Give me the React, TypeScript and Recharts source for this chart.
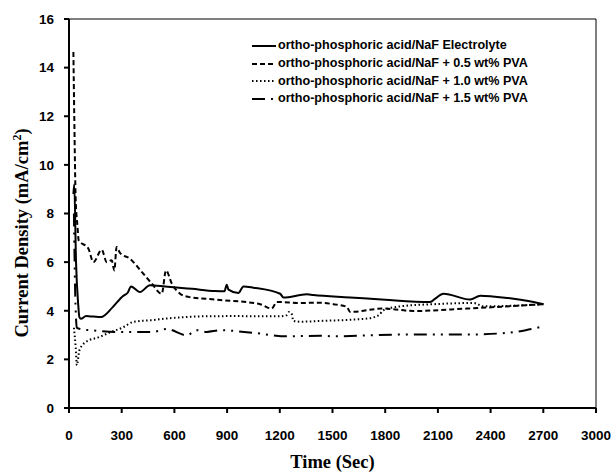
import { LineChart, Line, XAxis, YAxis, ReferenceLine, Legend } from 'recharts'

const SANS = '"Liberation Sans", Arial, sans-serif'
const SERIF = '"Liberation Serif", "Times New Roman", serif'

// time (sec) / current density (mA/cm2)
const electrolyteT = [25, 30, 40, 52, 59, 68, 97, 140, 182, 249, 306, 335, 353, 404, 461, 547, 700, 832, 885, 898, 908, 964, 993, 1050, 1202, 1221, 1354, 1391, 1600, 1800, 2056, 2085, 2132, 2284, 2341, 2500, 2645, 2702]
const electrolyteV = [8.8, 9.2, 6.0, 4.3, 3.74, 3.67, 3.78, 3.76, 3.74, 4.15, 4.6, 4.75, 5.0, 4.77, 5.05, 5.0, 4.9, 4.81, 4.8, 5.07, 4.87, 4.73, 5.0, 4.95, 4.7, 4.54, 4.68, 4.65, 4.55, 4.45, 4.36, 4.5, 4.7, 4.46, 4.62, 4.52, 4.36, 4.27]

const pva05T = [25, 30, 38, 48, 55, 63, 110, 139, 186, 215, 243, 258, 271, 290, 347, 414, 471, 528, 552, 585, 632, 680, 832, 1088, 1154, 1183, 1316, 1430, 1505, 1582, 1600, 1790, 1961, 2265, 2702]
const pva05V = [14.64, 12.0, 8.6, 7.5, 6.9, 6.83, 6.56, 6.0, 6.51, 6.0, 6.08, 5.66, 6.62, 6.38, 6.14, 5.6, 5.12, 4.7, 5.66, 5.12, 4.7, 4.57, 4.46, 4.27, 4.09, 4.36, 4.32, 4.33, 4.27, 4.16, 3.95, 4.09, 3.99, 4.09, 4.27]

const pva10T = [28, 38, 45, 59, 97, 173, 230, 306, 366, 480, 556, 765, 936, 1202, 1240, 1252, 1268, 1277, 1316, 1430, 1696, 1762, 1790, 1885, 2075, 2303, 2360, 2702]
const pva10V = [3.3, 2.5, 1.76, 2.37, 2.72, 2.92, 3.1, 3.31, 3.54, 3.62, 3.68, 3.77, 3.78, 3.77, 3.82, 3.95, 3.86, 3.58, 3.55, 3.58, 3.68, 3.81, 4.02, 4.18, 4.27, 4.32, 4.18, 4.27]

const pva15T = [28, 36, 45, 53, 167, 262, 480, 556, 670, 727, 784, 860, 1050, 1240, 1430, 1505, 1885, 2265, 2493, 2600, 2702]
const pva15V = [8.0, 4.5, 3.3, 3.27, 3.17, 3.13, 3.13, 3.25, 2.99, 3.2, 3.13, 3.2, 3.09, 2.95, 2.97, 2.95, 3.02, 3.02, 3.09, 3.2, 3.36]

const xTicks = [0, 300, 600, 900, 1200, 1500, 1800, 2100, 2400, 2700, 3000]
const yTicks = [0, 2, 4, 6, 8, 10, 12, 14, 16]

const toPoints = (ts: number[], vs: number[]) => ts.map((t, i) => ({ t, v: vs[i] }))

const series = [
  { name: 'ortho-phosphoric acid/NaF Electrolyte', data: toPoints(electrolyteT, electrolyteV), dash: undefined, width: 2 },
  { name: 'ortho-phosphoric acid/NaF + 0.5 wt% PVA', data: toPoints(pva05T, pva05V), dash: '5 3', width: 2 },
  { name: 'ortho-phosphoric acid/NaF + 1.0 wt% PVA', data: toPoints(pva10T, pva10V), dash: '1.5 2.5', width: 2 },
  { name: 'ortho-phosphoric acid/NaF + 1.5 wt% PVA', data: toPoints(pva15T, pva15V), dash: '13 6 2 6 2 6', width: 2 },
]

function LegendBox() {
  return (
    <div style={{ fontFamily: SANS, fontWeight: 'bold', fontSize: 12.6, lineHeight: '17.8px', color: '#000' }}>
      {series.map(s => (
        <div key={s.name} style={{ display: 'flex', alignItems: 'center', height: 17.8, whiteSpace: 'nowrap' }}>
          <svg width={26} height={10} style={{ marginRight: 1 }}>
            <line x1={1} y1={5} x2={25} y2={5} stroke="#000" strokeWidth={2} strokeDasharray={s.dash} />
          </svg>
          <span>{s.name}</span>
        </div>
      ))}
    </div>
  )
}

function YTitle() {
  return (
    <text
      transform="rotate(-90, 28, 233)"
      x={28}
      y={233}
      textAnchor="middle"
      fontFamily={SERIF}
      fontWeight="bold"
      fontSize={18.5}
      fill="#000"
    >
      Current Density  (mA/cm<tspan dy={-7} fontSize={12}>2</tspan><tspan dy={7}>)</tspan>
    </text>
  )
}

export default function App() {
  return (
    <div style={{ position: 'absolute', left: 0, top: 0, background: '#fff' }}>
      <LineChart width={612} height={474} margin={{ top: 19, right: 16, bottom: 0, left: 0 }}>
        <XAxis
          type="number"
          dataKey="t"
          domain={[0, 3000]}
          ticks={xTicks}
          allowDuplicatedCategory={false}
          stroke="#000"
          strokeWidth={2}
          tickSize={5}
          tickMargin={17}
          height={66}
          tick={{ fill: '#000', fontFamily: SANS, fontWeight: 'bold', fontSize: 13.5 }}
          label={{ value: 'Time (Sec)', position: 'insideBottom', offset: 6, fill: '#000', fontFamily: SERIF, fontWeight: 'bold', fontSize: 18.5 }}
        />
        <YAxis
          type="number"
          dataKey="v"
          domain={[0, 16]}
          ticks={yTicks}
          stroke="#000"
          strokeWidth={2}
          tickSize={5}
          tickMargin={10}
          width={69}
          tick={{ fill: '#000', fontFamily: SANS, fontWeight: 'bold', fontSize: 13.5 }}
          label={<YTitle />}
        />
        <ReferenceLine y={16} stroke="#000" strokeWidth={1} />
        <ReferenceLine x={3000} stroke="#000" strokeWidth={1} />
        {series.map(s => (
          <Line
            key={s.name}
            data={s.data}
            dataKey="v"
            name={s.name}
            type="monotone"
            stroke="#000"
            strokeWidth={s.width}
            strokeDasharray={s.dash}
            dot={false}
            activeDot={false}
            isAnimationActive={false}
          />
        ))}
        <Legend
          layout="vertical"
          align="center"
          verticalAlign="middle"
          wrapperStyle={{ left: 251, top: 37, width: 340 }}
          content={() => <LegendBox />}
        />
      </LineChart>
    </div>
  )
}
